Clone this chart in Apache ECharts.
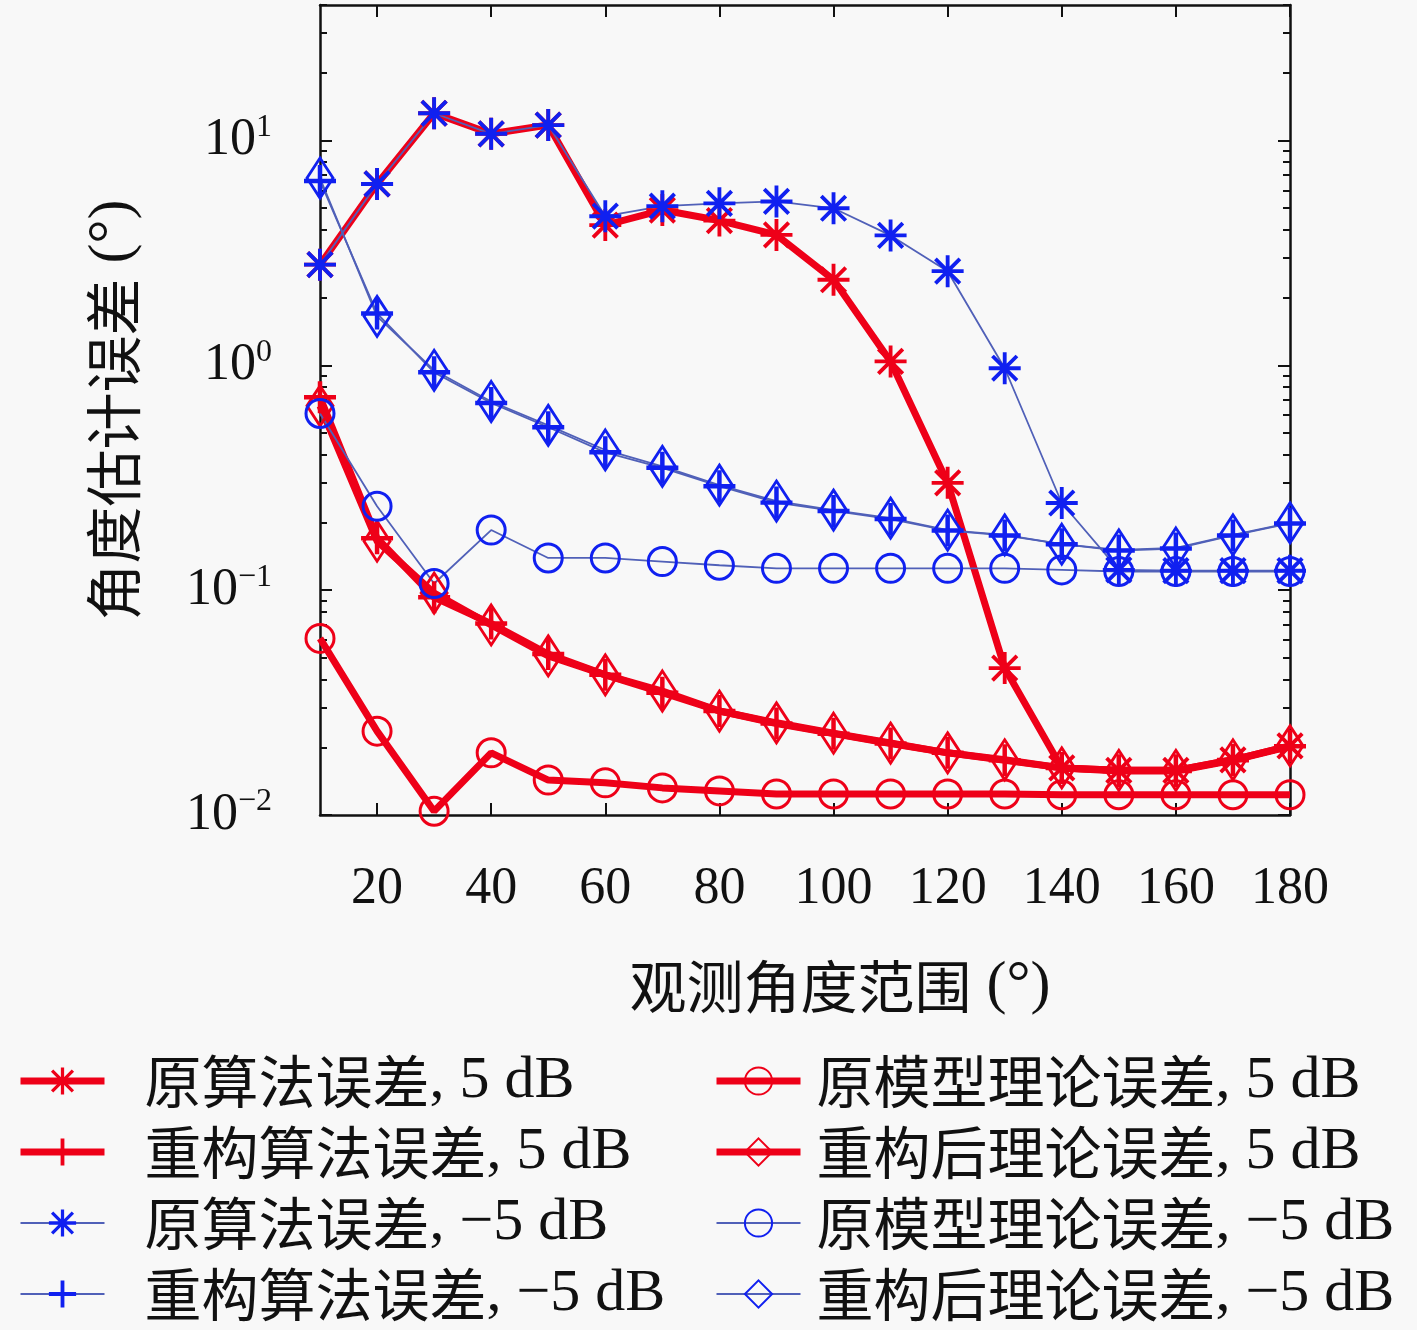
<!DOCTYPE html>
<html>
<head>
<meta charset="utf-8">
<script src="https://cdn.jsdelivr.net/npm/echarts@6/dist/echarts.min.js"></script>
<style>
  html, body { margin: 0; padding: 0; background: #f8f8f8; }
  #chart { width: 1417px; height: 1330px; }
</style>
</head>
<body>
<div id="chart"></div>
<script>
// observation angle range (deg)
const angles = [10, 20, 30, 40, 50, 60, 70, 80, 90, 100, 110, 120, 130, 140, 150, 160, 170, 180];

// angle estimation error (deg)
const origAlg5 = [2.8, 6.4, 13.2, 10.7, 11.7, 4.2, 4.9, 4.4, 3.8, 2.4, 1.04, 0.30, 0.045, 0.0162, 0.0158, 0.0158, 0.0176, 0.0203];
const reconAlg5 = [0.72, 0.17, 0.093, 0.071, 0.052, 0.042, 0.035, 0.029, 0.0255, 0.023, 0.0208, 0.0189, 0.0175, 0.0162, 0.0157, 0.0157, 0.0175, 0.0202];
const origAlgM5 = [2.8, 6.4, 13.2, 10.7, 11.7, 4.6, 5.1, 5.25, 5.35, 4.99, 3.78, 2.62, 0.97, 0.244, 0.123, 0.122, 0.122, 0.122];
const reconAlgM5 = [6.6, 1.7, 0.93, 0.68, 0.53, 0.41, 0.35, 0.29, 0.245, 0.225, 0.207, 0.184, 0.175, 0.16, 0.15, 0.153, 0.175, 0.198];
const origTheory5 = [0.061, 0.0236, 0.0104, 0.0189, 0.0143, 0.0139, 0.0132, 0.0128, 0.0124, 0.0124, 0.0124, 0.0124, 0.0124, 0.0123, 0.0123, 0.0123, 0.0123, 0.0123];
const reconTheory5 = [0.66, 0.165, 0.097, 0.070, 0.051, 0.042, 0.0356, 0.029, 0.0257, 0.0231, 0.0209, 0.0189, 0.0176, 0.0162, 0.0158, 0.0158, 0.0176, 0.0203];
const origTheoryM5 = [0.61, 0.236, 0.107, 0.185, 0.139, 0.139, 0.134, 0.129, 0.125, 0.125, 0.125, 0.125, 0.125, 0.123, 0.121, 0.121, 0.121, 0.121];
const reconTheoryM5 = [6.8, 1.65, 0.95, 0.69, 0.54, 0.42, 0.355, 0.293, 0.249, 0.227, 0.209, 0.185, 0.176, 0.16, 0.151, 0.154, 0.176, 0.199];

const names = [
    '原算法误差, 5 dB', '重构算法误差, 5 dB', '原算法误差, −5 dB', '重构算法误差, −5 dB',
    '原模型理论误差, 5 dB', '重构后理论误差, 5 dB', '原模型理论误差, −5 dB', '重构后理论误差, −5 dB'
];

const xTicks = [20, 40, 60, 80, 100, 120, 140, 160, 180];
const yMajor = [0.01, 0.1, 1, 10];
const yMinor = [0.02, 0.03, 0.04, 0.05, 0.06, 0.07, 0.08, 0.09,
    0.2, 0.3, 0.4, 0.5, 0.6, 0.7, 0.8, 0.9,
    2, 3, 4, 5, 6, 7, 8, 9, 20, 30, 40];

const RED = '#ee0018';
const BLUE = '#1020f0';
const BLUE_LINE = '#5060b8';
const serif = '"Liberation Serif", "DejaVu Serif", serif';
const cjk = '"Noto Sans CJK SC", ' + serif;
const RED_W = 7;
const BLUE_W = 1.8;

// marker shapes drawn as filled bars
const PLUS = 'path://M0,8.6L20,8.6L20,11.4L0,11.4ZM8.6,0L11.4,0L11.4,20L8.6,20Z';
const STAR = 'path://M0,8.8L20,8.8L20,11.2L0,11.2ZM8.8,0L11.2,0L11.2,20L8.8,20Z' +
    'M1.5,3.2L3.2,1.5L18.5,16.8L16.8,18.5ZM16.8,1.5L18.5,3.2L3.2,18.5L1.5,16.8Z';

function pairs(ys) { return angles.map((x, i) => [x, ys[i]]); }

function mk(name, ys, color, lineColor, width, symbol, size, hollow) {
    return {
        name, type: 'line', data: pairs(ys),
        symbol, symbolSize: size, showSymbol: true,
        lineStyle: { color: lineColor, width },
        itemStyle: hollow
            ? { color: 'rgba(0,0,0,0)', borderColor: color, borderWidth: 3 }
            : { color, borderWidth: 0 },
        emphasis: { disabled: true }
    };
}

const series = [
    mk(names[0], origAlg5, RED, RED, RED_W, STAR, 32, false),
    mk(names[1], reconAlg5, RED, RED, RED_W, PLUS, 32, false),
    mk(names[2], origAlgM5, BLUE, BLUE_LINE, BLUE_W, STAR, 32, false),
    mk(names[3], reconAlgM5, BLUE, BLUE_LINE, BLUE_W, PLUS, 32, false),
    mk(names[4], origTheory5, RED, RED, RED_W, 'circle', 28, true),
    mk(names[5], reconTheory5, RED, RED, RED_W, 'diamond', [26, 40], true),
    mk(names[6], origTheoryM5, BLUE, BLUE_LINE, BLUE_W, 'circle', 28, true),
    mk(names[7], reconTheoryM5, BLUE, BLUE_LINE, BLUE_W, 'diamond', [26, 40], true)
];

const supMap = { '0.01': '−2', '0.1': '−1', '1': '0', '10': '1' };

function yAxis(position, ticks, len, showLine, showLabel) {
    return {
        type: 'log', logBase: 10, min: 0.01, max: 40, position,
        axisLine: { show: showLine, lineStyle: { color: '#111', width: 2.5 } },
        axisTick: { show: true, inside: true, length: len, customValues: ticks, lineStyle: { color: '#111', width: 2 } },
        axisLabel: {
            show: showLabel, customValues: yMajor, margin: 48,
            formatter: v => '{b|10}{s|' + supMap[String(v)] + '}',
            rich: {
                b: { fontFamily: serif, fontSize: 52, color: '#111' },
                s: { fontFamily: serif, fontSize: 32, color: '#111', padding: [0, 0, 26, 0] }
            }
        },
        splitLine: { show: false },
        minorTick: { show: false }
    };
}

// split "中文, 5 dB" into a CJK part and a Latin part
function richName(n) {
    const k = n.indexOf(',');
    return '{c|' + n.slice(0, k) + '}{l|' + n.slice(k) + '}';
}
const legendRich = {
    c: { fontFamily: cjk, fontSize: 57, color: '#111', lineHeight: 58 },
    l: { fontFamily: serif, fontSize: 60, color: '#111', lineHeight: 58 }
};

function legendItems(list) {
    return list.map(n => {
        const red = n.indexOf('−') < 0;
        return { name: n, lineStyle: { width: red ? RED_W : BLUE_W } };
    });
}

const chart = echarts.init(document.getElementById('chart'));
chart.setOption({
    backgroundColor: '#f8f8f8',
    animation: false,
    grid: { left: 320, right: 127, top: 5, bottom: 515, containLabel: false },
    xAxis: [{
        type: 'value', min: 10, max: 180, position: 'bottom',
        name: '{c|观测角度范围}{l| (°)}', nameLocation: 'middle', nameGap: 142,
        nameTextStyle: { rich: legendRich, padding: [0, 0, 0, 70] },
        axisLine: { lineStyle: { color: '#111', width: 2.5 } },
        axisTick: { inside: true, length: 12, customValues: xTicks, lineStyle: { color: '#111', width: 2 } },
        axisLabel: { customValues: xTicks, margin: 48, fontFamily: serif, fontSize: 52, color: '#111' },
        splitLine: { show: false }
    }, {
        type: 'value', min: 10, max: 180, position: 'top',
        axisLine: { lineStyle: { color: '#111', width: 2.5 } },
        axisTick: { inside: true, length: 12, customValues: xTicks, lineStyle: { color: '#111', width: 2 } },
        axisLabel: { show: false },
        splitLine: { show: false }
    }],
    yAxis: [
        Object.assign(yAxis('left', yMajor, 12, true, true), {
            name: '{c|角度估计误差}{l| (°)}', nameLocation: 'middle', nameGap: 178, nameRotate: 90,
            nameTextStyle: { rich: legendRich }
        }),
        yAxis('left', yMinor, 7, false, false),
        yAxis('right', yMajor, 12, true, false),
        yAxis('right', yMinor, 7, false, false)
    ],
    legend: [{
        data: legendItems(names.slice(0, 4)), orient: 'vertical', left: 12, top: 1046, height: 290,
        itemWidth: 84, itemHeight: 34, itemGap: 11,
        formatter: richName,
        textStyle: { rich: legendRich, padding: [0, 0, 0, 35] }
    }, {
        data: legendItems(names.slice(4)), orient: 'vertical', left: 708, top: 1046, height: 290,
        itemWidth: 84, itemHeight: 34, itemGap: 11,
        formatter: richName,
        textStyle: { rich: legendRich, padding: [0, 0, 0, 11] }
    }],
    series
});
</script>
</body>
</html>
